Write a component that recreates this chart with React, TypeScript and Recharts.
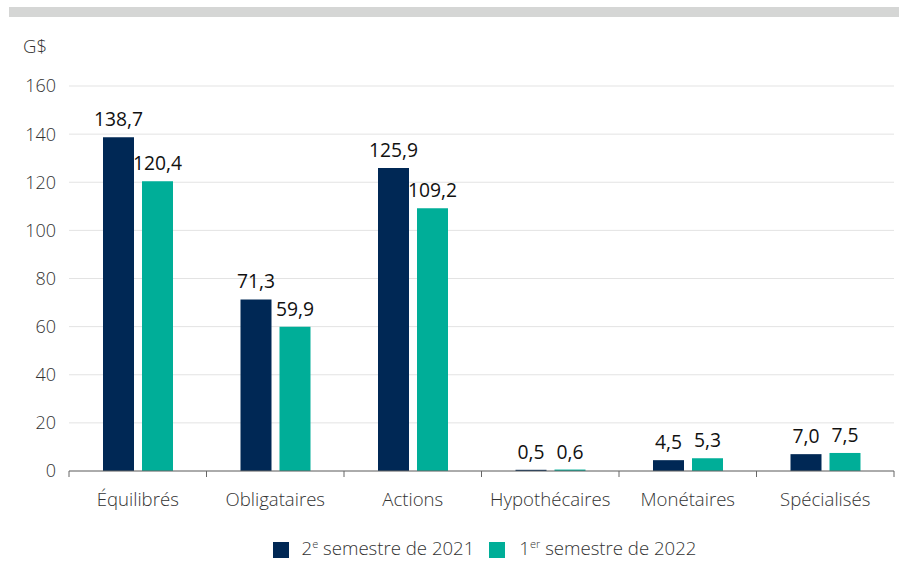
import { BarChart, Bar, XAxis, YAxis, CartesianGrid, LabelList } from "recharts"

const categories = ["Équilibrés", "Obligataires", "Actions", "Hypothécaires", "Monétaires", "Spécialisés"]
const s2021 = [138.7, 71.3, 125.9, 0.5, 4.5, 7.0]
const s2022 = [120.4, 59.9, 109.2, 0.6, 5.3, 7.5]
const yTicks = [0, 20, 40, 60, 80, 100, 120, 140, 160]

const NAVY = "#002855"
const TEAL = "#00ae98"
const FONT = "'Open Sans', sans-serif"
const WEIGHT = 300

const data = categories.map((name, i) => ({ name, a: s2021[i], b: s2022[i] }))

const fmt = (v: any) => Number(v).toFixed(1).replace(".", ",")

function CategoryTick(props: any) {
  const { x, y, payload, index, visibleTicksCount } = props
  const band = (899 - 5 - 69) / categories.length
  const left = x - band / 2
  const right = x + band / 2
  const last = index === (visibleTicksCount ?? categories.length) - 1
  return (
    <g>
      <line x1={left} x2={left} y1={y - 6} y2={y} stroke="#666" strokeWidth={1} />
      {last && <line x1={right} x2={right} y1={y - 6} y2={y} stroke="#666" strokeWidth={1} />}
      <text x={x} y={y + 29} textAnchor="middle" fill="#333" fontSize={18.6} fontWeight={WEIGHT} fontFamily={FONT}>
        {payload.value}
      </text>
    </g>
  )
}

export default function App() {
  return (
    <div style={{ position: "absolute", left: 0, top: 0, width: 899, height: 562, background: "#fff", fontFamily: FONT, fontWeight: WEIGHT }}>
      <div style={{ position: "absolute", left: 9, top: 7, width: 890, height: 10, background: "#d5d6d5" }} />
      <div style={{ position: "absolute", left: 23, top: 33, fontSize: 18.5, color: "#333" }}>G$</div>
      <BarChart
        width={899}
        height={562}
        data={data}
        margin={{ top: 86, right: 5, left: 0, bottom: 51 }}
        barSize={31}
        barGap={8}
      >
        <CartesianGrid vertical={false} stroke="#e3e3e3" />
        <YAxis
          width={69}
          domain={[0, 160]}
          ticks={yTicks}
          axisLine={false}
          tickLine={false}
          tickMargin={7}
          tick={{ fill: "#333", fontSize: 18, fontWeight: WEIGHT, fontFamily: FONT }}
        />
        <XAxis
          dataKey="name"
          height={40}
          axisLine={{ stroke: "#666" }}
          tickLine={false}
          tickSize={6}
          tickMargin={0}
          interval={0}
          tick={<CategoryTick />}
        />
        <Bar dataKey="a" fill={NAVY} isAnimationActive={false}>
          <LabelList dataKey="a" position="top" offset={11} formatter={fmt} fill="#111" fontSize={19.3} fontWeight={400} fontFamily={FONT} />
        </Bar>
        <Bar dataKey="b" fill={TEAL} isAnimationActive={false}>
          <LabelList dataKey="b" position="top" offset={11} formatter={fmt} fill="#111" fontSize={19.3} fontWeight={400} fontFamily={FONT} />
        </Bar>
      </BarChart>
      <div
        style={{
          position: "absolute",
          left: 0,
          top: 535,
          width: 899,
          display: "flex",
          justifyContent: "center",
          alignItems: "center",
          fontSize: 18.6,
          color: "#333",
          paddingLeft: 70,
          boxSizing: "border-box",
        }}
      >
        <span style={{ display: "inline-block", width: 16, height: 16, background: NAVY, marginRight: 13, position: "relative", top: 2 }} />
        <span>
          2<sup style={{ fontSize: 11, lineHeight: 0 }}>e</sup> semestre de 2021
        </span>
        <span style={{ display: "inline-block", width: 16, height: 16, background: TEAL, marginLeft: 15, marginRight: 14, position: "relative", top: 2 }} />
        <span>
          1<sup style={{ fontSize: 11, lineHeight: 0 }}>er</sup> semestre de 2022
        </span>
      </div>
    </div>
  )
}
